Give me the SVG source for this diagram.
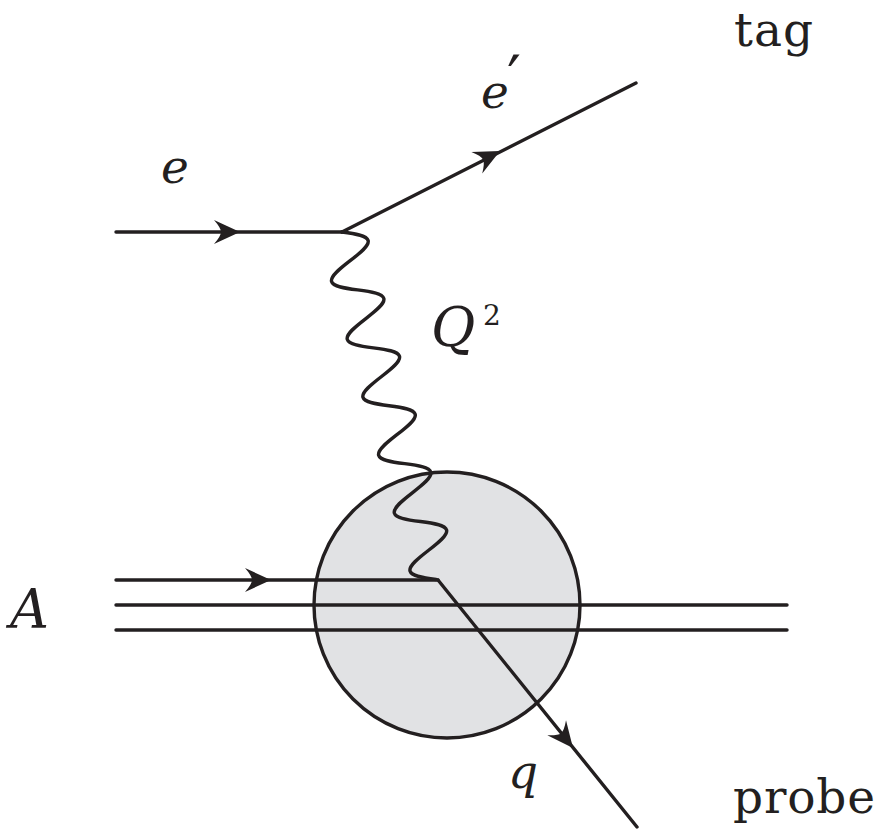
<svg xmlns="http://www.w3.org/2000/svg" width="886" height="831" viewBox="0 0 886 831">
<style>
.ln{fill:none;stroke:#231f20;stroke-width:3.4;stroke-linecap:round;stroke-linejoin:round}
.ah{fill:#231f20;stroke:none}
.lbl{font-family:"DejaVu Serif",serif;font-size:47px;fill:#231f20}
.it{font-style:italic}
.cap{font-size:54px}
.prime{font-family:"DejaVu Sans",sans-serif;font-size:62px;font-style:normal}
</style>
<defs>
<path id="arrow" class="ah" d="M0,0 L-26,-12 Q-19,-4 -19,0 Q-19,4 -26,12 Z"/>
</defs>
<rect width="886" height="831" fill="#ffffff"/>
<g id="blob">
<circle cx="447" cy="605" r="133" fill="#e1e2e4" stroke="#231f20" stroke-width="3.4"/>
</g>
<g id="connectors">
<line id="e-in" class="ln" x1="116" y1="232" x2="342" y2="232"/>
<line id="e-out" class="ln" x1="342" y1="232" x2="636" y2="83"/>
<path id="photon" class="ln" transform="translate(342,232) rotate(74.84)" d="M0,0 c4.89,-11.78 9.57,-23 15,-23 c5.43,0 10.11,11.22 15,23 c4.89,11.78 9.57,23 15,23 c5.43,0 10.11,-11.22 15,-23 c4.89,-11.78 9.57,-23 15,-23 c5.43,0 10.11,11.22 15,23 c4.89,11.78 9.57,23 15,23 c5.43,0 10.11,-11.22 15,-23 c4.89,-11.78 9.57,-23 15,-23 c5.43,0 10.11,11.22 15,23 c4.89,11.78 9.57,23 15,23 c5.43,0 10.11,-11.22 15,-23 c4.89,-11.78 9.57,-23 15,-23 c5.43,0 10.11,11.22 15,23 c4.89,11.78 9.57,23 15,23 c5.43,0 10.11,-11.22 15,-23 c4.89,-11.78 9.57,-23 15,-23 c5.43,0 10.11,11.22 15,23 c4.89,11.78 9.57,23 15,23 c5.43,0 10.11,-11.22 15,-23 c4.89,-11.78 9.57,-23 15,-23 c5.43,0 10.11,11.22 15,23 c4.89,11.78 9.57,23 15,23 c5.43,0 10.11,-11.22 15,-23"/>
<line id="quark-in" class="ln" x1="116" y1="580" x2="438" y2="580"/>
<line id="spectator-1" class="ln" x1="116" y1="605" x2="787" y2="605"/>
<line id="spectator-2" class="ln" x1="116" y1="630" x2="787" y2="630"/>
<line id="quark-out" class="ln" x1="438" y1="580" x2="637" y2="827"/>
<use href="#arrow" transform="translate(240,232)"/>
<use href="#arrow" transform="translate(500,151) rotate(-26.9)"/>
<use href="#arrow" transform="translate(271,580)"/>
<use href="#arrow" transform="translate(573,748) rotate(51.1)"/>
</g>
<g id="label-e"><text class="lbl it" x="161" y="183">e</text></g>
<g id="label-eprime"><text class="lbl it" x="481" y="108">e<tspan class="prime" x="507" y="100">′</tspan></text></g>
<g id="label-tag"><text class="lbl" x="734" y="46" textLength="79">tag</text></g>
<g id="label-Q2"><text class="lbl it cap" x="431" y="346">Q<tspan font-style="normal" font-size="28" x="483" y="325">2</tspan></text></g>
<g id="label-A"><text class="lbl it cap" x="10" y="628">A</text></g>
<g id="label-q"><text class="lbl it" x="508" y="788">q</text></g>
<g id="label-probe"><text class="lbl" x="733" y="813" textLength="142">probe</text></g>
</svg>
